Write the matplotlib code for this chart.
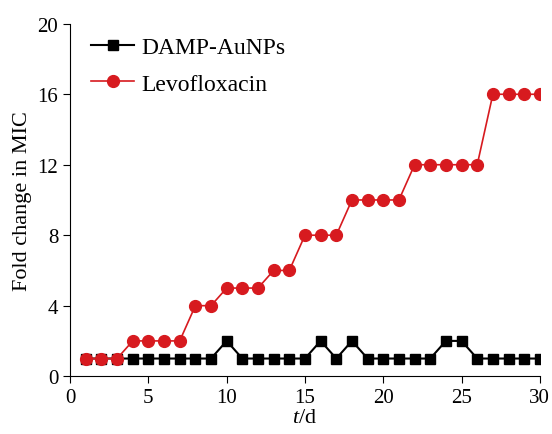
import matplotlib.pyplot as plt

days = list(range(1, 31))
damp = [1, 1, 1, 1, 1, 1, 1, 1, 1, 2, 1, 1, 1, 1, 1, 2, 1, 2, 1, 1,
        1, 1, 1, 2, 2, 1, 1, 1, 1, 1]
levo = [1, 1, 1, 2, 2, 2, 2, 4, 4, 5, 5, 5, 6, 6, 8, 8, 8, 10, 10, 10,
        10, 12, 12, 12, 12, 12, 16, 16, 16, 16]
xticks = [0, 5, 10, 15, 20, 25, 30]
yticks = [0, 4, 8, 12, 16, 20]

plt.rcParams['font.family'] = ['Liberation Serif', 'DejaVu Serif']
plt.rcParams['mathtext.fontset'] = 'custom'
plt.rcParams['mathtext.it'] = 'Liberation Serif:italic'
plt.rcParams['mathtext.rm'] = 'Liberation Serif'

fig = plt.figure(figsize=(5.52, 4.35), dpi=100)
ax = fig.add_axes([0.127, 0.133, 0.851, 0.81])

ax.plot(days, damp, color='black', marker='s', markersize=6.5, linewidth=1.5,
        label='DAMP-AuNPs')
ax.plot(days, levo, color='#d71a1f', marker='o', markersize=8.5, linewidth=1.2,
        label='Levofloxacin')

ax.set_xlim(0, 30)
ax.set_ylim(0, 20)
ax.set_xticks(xticks)
ax.set_yticks(yticks)
ax.spines['top'].set_visible(False)
ax.spines['right'].set_visible(False)
ax.tick_params(direction='out', labelsize=15, length=5)
ax.set_xlabel('$t$/d', fontsize=16, labelpad=1)
ax.set_ylabel('Fold change in MIC', fontsize=16)

leg = ax.legend(loc='upper left', frameon=False, fontsize=17,
                bbox_to_anchor=(0.0, 1.025), handlelength=1.8,
                handletextpad=0.3, labelspacing=0.65)

fig.savefig('out.png')
